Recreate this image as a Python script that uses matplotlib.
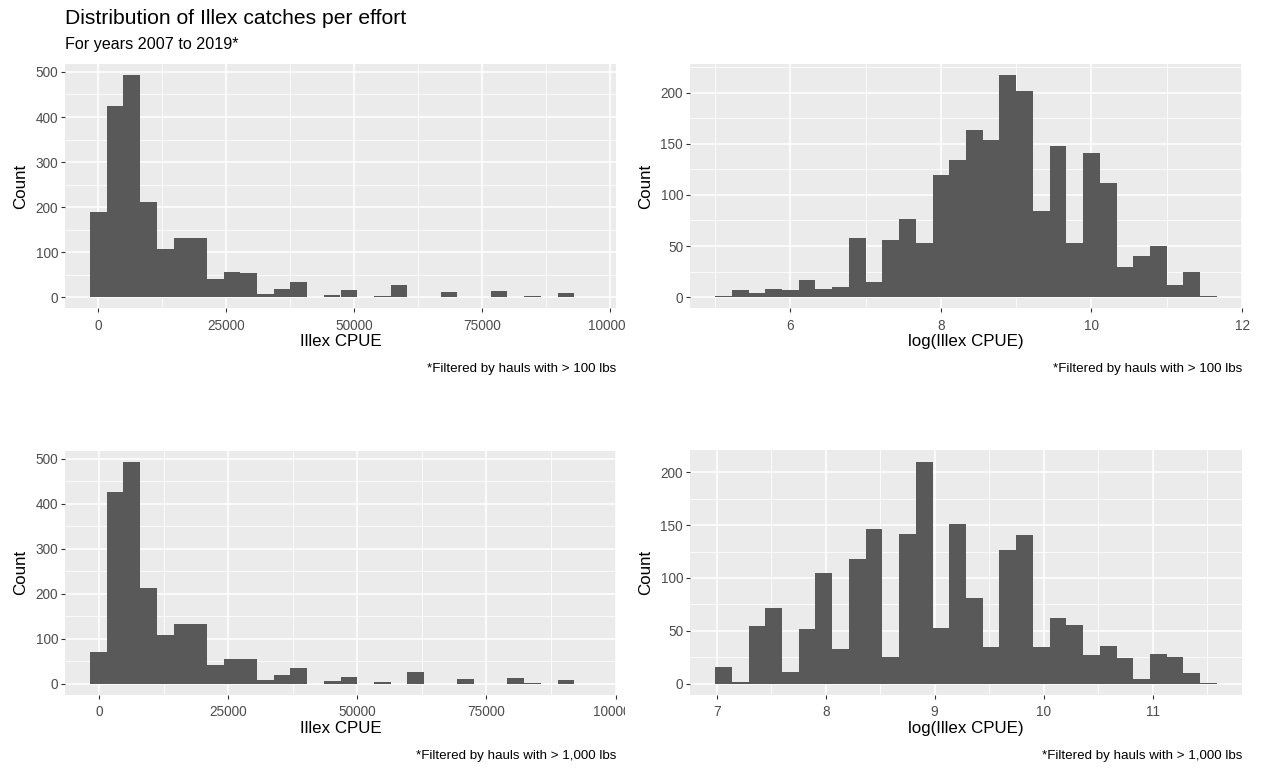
import numpy as np
import matplotlib
matplotlib.use("Agg")
import matplotlib.pyplot as plt
from matplotlib.ticker import AutoMinorLocator
from matplotlib.transforms import Bbox, TransformedBbox

plt.rcParams['font.family'] = ['Liberation Sans', 'DejaVu Sans']

# histogram counts (30 bins each)
cpue_100 = [190, 424, 493, 212, 108, 132, 132, 40, 56, 53, 8, 19, 33, 0, 6,
            16, 0, 3, 27, 0, 0, 12, 0, 0, 14, 0, 3, 0, 9, 0]
cpue_100_start, cpue_100_width = -1530, 3260

logcpue_100 = [1, 7, 4, 8, 7, 17, 8, 10, 58, 15, 56, 76, 53, 119, 134,
               163, 154, 217, 201, 84, 148, 53, 141, 112, 30, 40, 50, 12, 25, 1]
logcpue_100_start, logcpue_100_width = 5.0, 0.2222

cpue_1000 = [70, 425, 493, 212, 109, 132, 132, 41, 56, 56, 9, 20, 35, 0, 6,
             16, 0, 4, 0, 27, 0, 0, 11, 0, 0, 14, 3, 0, 8, 0]
cpue_1000_start, cpue_1000_width = -1717, 3231

logcpue_1000 = [16, 2, 55, 72, 11, 52, 105, 33, 118, 146, 25, 142, 210, 53, 151,
                81, 35, 126, 141, 35, 62, 56, 27, 36, 24, 5, 28, 25, 10, 1]
logcpue_1000_start, logcpue_1000_width = 6.985, 0.1535

W, H = 1262, 768
fig = plt.figure(figsize=(W / 100, H / 100), dpi=100)
fig.patch.set_facecolor('white')


def add_panel(x0, y0, x1, y1):
    return fig.add_axes([x0 / W, 1 - y1 / H, (x1 - x0) / W, (y1 - y0) / H])


def hist_panel(ax, counts, start, width, xticks, yticks, xlabel, caption):
    edges = start + width * np.arange(len(counts) + 1)
    ax.bar(edges[:-1], counts, width=np.diff(edges), align='edge',
           color='#595959', linewidth=0, zorder=3)
    ax.use_sticky_edges = False
    ax.margins(x=0.05, y=0.05)
    ax.set_facecolor('#EBEBEB')
    for s in ax.spines.values():
        s.set_visible(False)
    ax.set_xticks(xticks)
    ax.set_yticks(yticks)
    ax.xaxis.set_minor_locator(AutoMinorLocator(2))
    ax.yaxis.set_minor_locator(AutoMinorLocator(2))
    ax.grid(which='major', color='white', linewidth=1.1, zorder=0)
    ax.grid(which='minor', color='white', linewidth=0.55, zorder=0)
    ax.set_axisbelow(True)
    ax.tick_params(which='major', length=2.8, width=0.8, color='#333333',
                   labelsize=9.8, labelcolor='#4D4D4D')
    ax.tick_params(axis='x', which='major', pad=4.5)
    ax.tick_params(axis='y', which='major', pad=2.2)
    ax.tick_params(which='minor', length=0)
    ax.set_xlabel(xlabel, fontsize=12.2, labelpad=1)
    ax.set_ylabel('Count', fontsize=12.2, labelpad=5)
    bb = ax.get_position()
    fig.text(bb.x1, bb.y0 - 61 / H, caption, ha='right', va='center',
             fontsize=9.6)


ax1 = add_panel(65, 64, 616, 308.4)
hist_panel(ax1, cpue_100, cpue_100_start, cpue_100_width,
           [0, 25000, 50000, 75000, 100000], [0, 100, 200, 300, 400, 500],
           'Illex CPUE', '*Filtered by hauls with > 100 lbs')

ax2 = add_panel(690, 64, 1242, 308.4)
hist_panel(ax2, logcpue_100, logcpue_100_start, logcpue_100_width,
           [6, 8, 10, 12], [0, 50, 100, 150, 200],
           'log(Illex CPUE)', '*Filtered by hauls with > 100 lbs')

ax3 = add_panel(65, 450.6, 616, 695)
hist_panel(ax3, cpue_1000, cpue_1000_start, cpue_1000_width,
           [0, 25000, 50000, 75000, 100000], [0, 100, 200, 300, 400, 500],
           'Illex CPUE', '*Filtered by hauls with > 1,000 lbs')

ax4 = add_panel(690, 450.4, 1242, 695)
hist_panel(ax4, logcpue_1000, logcpue_1000_start, logcpue_1000_width,
           [7, 8, 9, 10, 11], [0, 50, 100, 150, 200],
           'log(Illex CPUE)', '*Filtered by hauls with > 1,000 lbs')

# left-column tick labels are cut at the edge of their half of the figure
clip = TransformedBbox(Bbox.from_extents(0, 0, 625 / W, 1), fig.transFigure)
for ax in (ax1, ax3):
    for lbl in ax.get_xticklabels():
        lbl.set_clip_box(clip)
        lbl.set_clip_on(True)

fig.text(65 / W, 1 - 18 / H, 'Distribution of Illex catches per effort',
         ha='left', va='center', fontsize=15.2)
fig.text(65 / W, 1 - 45 / H, 'For years 2007 to 2019*',
         ha='left', va='center', fontsize=11.6)

fig.savefig('out.png', dpi=100)
